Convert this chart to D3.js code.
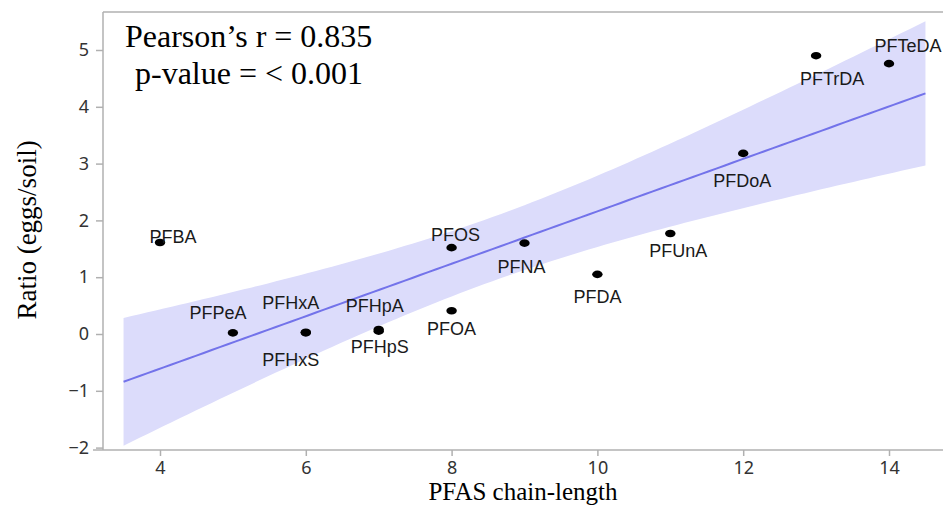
<!DOCTYPE html>
<html>
<head>
<meta charset="utf-8">
<script src="https://cdn.jsdelivr.net/npm/d3@7/dist/d3.min.js"></script>
<style>
  html, body { margin: 0; padding: 0; background: #fff; }
  svg { display: block; }
</style>
</head>
<body>
<script>
// ---- data ----
const compounds = ["PFBA","PFPeA","PFHxA","PFHxS","PFHpA","PFHpS","PFOS","PFOA","PFNA","PFDA","PFUnA","PFDoA","PFTrDA","PFTeDA"];
const chainLength = [4, 5, 6, 6, 7, 7, 8, 8, 9, 10, 11, 12, 13, 14];
const ratio = [1.61, 0.02, 0.02, 0.03, 0.08, 0.05, 1.52, 0.41, 1.60, 1.05, 1.77, 3.18, 4.90, 4.76];
const xTicks = [4, 6, 8, 10, 12, 14];
const yTicks = [-2, -1, 0, 1, 2, 3, 4, 5];
const fitRange = [3.5, 14.5];
const statLines = ["Pearson\u2019s r = 0.835", "p-value = < 0.001"];

// label placement (offsets of label centre from point, px)
const labelDx = [13, -15, -15, -15, -4, 1, 4, 0, -3, 0, 8, -1, 16, 19];
const labelDy = [-6, -20, -30, 28, -23, 16, -13, 18, 24, 23, 18, 28, 23, -18];

// ---- layout ----
const W = 943, H = 506;
const mLeft = 103, mTop = 12, mBottom = 450, mRight = 943;

const svg = d3.select("body").append("svg").attr("width", W).attr("height", H);

const x = d3.scaleLinear().domain([4, 14]).range([160, 889]);
const y = d3.scaleLinear().domain([0, 5]).range([334, 50]);

// ---- regression + 95% CI ----
const n = chainLength.length;
const mx = d3.mean(chainLength), my = d3.mean(ratio);
let sxx = 0, sxy = 0;
for (let i = 0; i < n; i++) { sxx += (chainLength[i]-mx)**2; sxy += (chainLength[i]-mx)*(ratio[i]-my); }
const b = sxy / sxx, a = my - b * mx;
let sse = 0;
for (let i = 0; i < n; i++) sse += (ratio[i] - (a + b*chainLength[i]))**2;
const s = Math.sqrt(sse / (n - 2));
const tCrit = 2.179; // t(0.975, df=12)
const grid = d3.range(0, 101).map(i => fitRange[0] + (fitRange[1]-fitRange[0]) * i / 100);
const band = grid.map(xv => {
  const yh = a + b * xv;
  const hw = tCrit * s * Math.sqrt(1/n + (xv-mx)**2 / sxx);
  return {x: xv, lo: yh - hw, hi: yh + hw, y: yh};
});

svg.append("path")
  .datum(band)
  .attr("fill", "#dcdcfb")
  .attr("stroke", "none")
  .attr("d", d3.area().x(d => x(d.x)).y0(d => y(d.lo)).y1(d => y(d.hi)));

svg.append("path")
  .datum(band)
  .attr("fill", "none")
  .attr("stroke", "#7373ea")
  .attr("stroke-width", 2)
  .attr("d", d3.line().x(d => x(d.x)).y(d => y(d.y)));

// ---- frame ----
svg.append("line").attr("x1", mLeft).attr("x2", mRight).attr("y1", mTop).attr("y2", mTop)
  .attr("stroke", "#b0b0b0").attr("stroke-width", 1.5);

// ---- axes ----
const fmt = d3.format("d");
const yAxis = svg.append("g")
  .attr("transform", `translate(${mLeft},0)`)
  .call(d3.axisLeft(y).tickValues(yTicks).tickFormat(v => fmt(v).replace("-", "\u2212")).tickSize(7).tickSizeOuter(0).tickPadding(7));
yAxis.select(".domain").attr("d", `M0,${mTop}V${mBottom}`);
const xAxis = svg.append("g")
  .attr("transform", `translate(0,${mBottom})`)
  .call(d3.axisBottom(x).tickValues(xTicks).tickFormat(fmt).tickSize(6).tickSizeOuter(0).tickPadding(5));
xAxis.select(".domain").attr("d", `M${mLeft - 10},0H${mRight}`);

[yAxis, xAxis].forEach(g => {
  g.selectAll(".domain").attr("stroke", "#b0b0b0").attr("stroke-width", 1.5);
  g.selectAll(".tick line").attr("stroke", "#b0b0b0").attr("stroke-width", 1.5);
  g.selectAll(".tick text")
    .attr("fill", "#333")
    .style("font-family", "'Noto Sans', 'Open Sans', sans-serif")
    .style("font-size", "18px");
});

// ---- points ----
const pts = compounds.map((c, i) => ({name: c, x: chainLength[i], y: ratio[i], dx: labelDx[i], dy: labelDy[i]}));

svg.append("g").selectAll("ellipse")
  .data(pts).join("ellipse")
  .attr("cx", d => x(d.x)).attr("cy", d => y(d.y))
  .attr("rx", 5.2).attr("ry", 3.8)
  .attr("fill", "#000");

svg.append("g").selectAll("text")
  .data(pts).join("text")
  .attr("x", d => x(d.x) + d.dx)
  .attr("y", d => y(d.y) + d.dy)
  .attr("text-anchor", "middle")
  .attr("dominant-baseline", "central")
  .attr("fill", "#1a1a1a")
  .style("font-family", "'Liberation Sans', Arial, sans-serif")
  .style("font-size", "18px")
  .text(d => d.name);

// ---- titles ----
svg.append("text")
  .attr("transform", "translate(36,230) rotate(-90)")
  .attr("text-anchor", "middle")
  .attr("fill", "#000")
  .style("font-family", "'Liberation Serif', 'Times New Roman', serif")
  .style("font-size", "27px")
  .text("Ratio (eggs/soil)");

svg.append("text")
  .attr("x", 523).attr("y", 500)
  .attr("text-anchor", "middle")
  .attr("fill", "#000")
  .style("font-family", "'Liberation Serif', 'Times New Roman', serif")
  .style("font-size", "25px")
  .text("PFAS chain-length");

svg.append("text")
  .attr("x", 125).attr("y", 47)
  .attr("fill", "#000")
  .style("font-family", "'Liberation Serif', 'Times New Roman', serif")
  .style("font-size", "32px")
  .text(statLines[0]);
svg.append("text")
  .attr("x", 135).attr("y", 84)
  .attr("fill", "#000")
  .style("font-family", "'Liberation Serif', 'Times New Roman', serif")
  .style("font-size", "32px")
  .text(statLines[1]);
</script>
</body>
</html>
